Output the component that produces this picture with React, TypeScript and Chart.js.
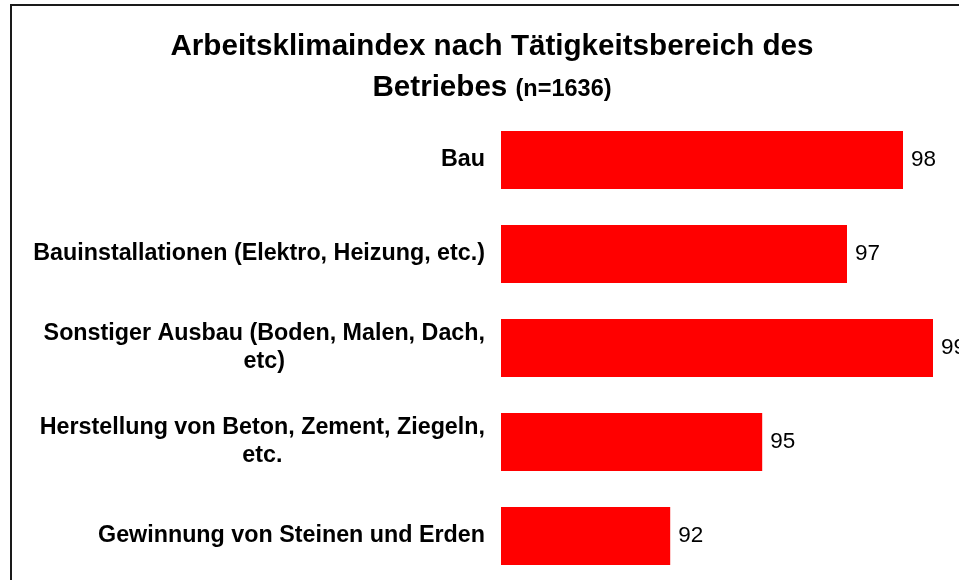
import React, { useEffect, useRef } from "react";
import { Chart, registerables } from "chart.js";

Chart.register(...registerables);

const categories: string[][] = [
  ["Bau"],
  ["Bauinstallationen (Elektro, Heizung, etc.)"],
  ["Sonstiger Ausbau (Boden, Malen, Dach,", "etc)"],
  ["Herstellung von Beton, Zement, Ziegeln,", "etc."],
  ["Gewinnung von Steinen und Erden"],
];
const values: number[] = [98.05, 96.65, 98.8, 94.53, 92.23];
const titleLine1 = "Arbeitsklimaindex nach Tätigkeitsbereich des";
const titleLine2a = "Betriebes ";
const titleLine2b = "(n=1636)";

const FONT = '"Liberation Sans", Arial, Helvetica, sans-serif';

const overlayPlugin = {
  id: "overlay",
  afterDraw(chart: any) {
    const ctx = chart.ctx as CanvasRenderingContext2D;
    ctx.save();
    // frame
    ctx.strokeStyle = "#1a1a1a";
    ctx.lineWidth = 2;
    ctx.strokeRect(11, 5, 2000, 2000);

    // title
    ctx.fillStyle = "#000";
    ctx.textBaseline = "alphabetic";
    ctx.textAlign = "center";
    ctx.font = `bold 29.6px ${FONT}`;
    ctx.fillText(titleLine1, 492, 55);
    ctx.textAlign = "left";
    const wA = ctx.measureText(titleLine2a).width;
    ctx.font = `bold 23.5px ${FONT}`;
    const wB = ctx.measureText(titleLine2b).width;
    const startX = 492 - (wA + wB) / 2;
    ctx.font = `bold 29.6px ${FONT}`;
    ctx.fillText(titleLine2a, startX, 96);
    ctx.font = `bold 23.5px ${FONT}`;
    ctx.fillText(titleLine2b, startX + wA, 96);

    // category labels
    const yScale = chart.scales.y;
    ctx.font = `bold 23.3px ${FONT}`;
    ctx.textAlign = "center";
    ctx.textBaseline = "middle";
    const lh = 28;
    categories.forEach((lines, i) => {
      const cy = yScale.getPixelForValue(i);
      const w = Math.max(...lines.map((l) => ctx.measureText(l).width));
      const cx = 485 - w / 2;
      lines.forEach((l, j) => {
        ctx.fillText(l, cx, cy + (j - (lines.length - 1) / 2) * lh);
      });
    });

    // value labels
    const meta = chart.getDatasetMeta(0);
    ctx.font = `22.5px ${FONT}`;
    ctx.textAlign = "left";
    meta.data.forEach((bar: any, i: number) => {
      ctx.fillText(String(Math.round(values[i])), bar.x + 8, bar.y);
    });
    ctx.restore();
  },
};

export default function App() {
  const ref = useRef<HTMLCanvasElement>(null);
  useEffect(() => {
    if (!ref.current) return;
    const chart = new Chart(ref.current, {
      type: "bar",
      data: {
        labels: categories.map((c) => c.join(" ")),
        datasets: [
          {
            data: values,
            backgroundColor: "#ff0000",
            borderWidth: 0,
            categoryPercentage: 1,
            barPercentage: 0.617,
          },
        ],
      },
      options: {
        indexAxis: "y",
        responsive: false,
        animation: false,
        layout: { padding: { left: 501, right: 19, top: 113, bottom: 17 } },
        scales: {
          x: { display: false, min: 88, max: 100, grid: { display: false } },
          y: { display: false, grid: { display: false } },
        },
        plugins: {
          legend: { display: false },
          tooltip: { enabled: false },
          title: { display: false },
        },
      },
      plugins: [overlayPlugin],
    });
    return () => chart.destroy();
  }, []);
  return (
    <div style={{ position: "absolute", left: 0, top: 0, width: 1000, height: 600, background: "#fff" }}>
      <canvas ref={ref} width={1000} height={600} style={{ display: "block" }} />
    </div>
  );
}
